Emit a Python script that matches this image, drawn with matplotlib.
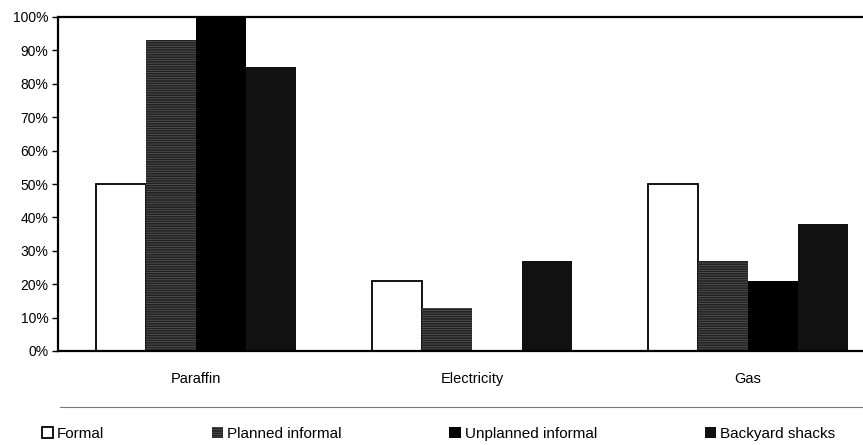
import numpy as np
import matplotlib
matplotlib.use("Agg")
import matplotlib.pyplot as plt
from matplotlib.lines import Line2D

plt.rcParams['font.family'] = ['Liberation Sans', 'DejaVu Sans']
plt.rcParams['hatch.color'] = '#5c5c5c'
plt.rcParams['hatch.linewidth'] = 0.5

fuels = ['Paraffin', 'Electricity', 'Gas']
series = ['Formal', 'Planned informal', 'Unplanned informal', 'Backyard shacks']
formal = [50, 21, 50]
planned = [93, 13, 27]
unplanned = [100, 0, 21]
backyard = [85, 27, 38]
yticks = [0, 10, 20, 30, 40, 50, 60, 70, 80, 90, 100]

fig = plt.figure(figsize=(8.63, 4.45), dpi=100)
ax = fig.add_axes([58 / 863, 94 / 445, 828 / 863, 334 / 445])

x = np.arange(len(fuels))
w = 0.181
offs = np.array([-1.5, -0.5, 0.5, 1.5]) * w
styles = [
    dict(color='white', edgecolor='black', linewidth=1.3),
    dict(color='#222222', hatch='-------', linewidth=0),
    dict(color='black', linewidth=0),
    dict(color='#111111', linewidth=0),
]
handles = []
for vals, off, st, name in zip([formal, planned, unplanned, backyard], offs, styles, series):
    b = ax.bar(x + off, vals, w, label=name, **st)
    handles.append(b)

ax.set_xlim(-0.5, 2.5)
ax.set_ylim(0, 100)
ax.set_yticks(yticks)
ax.set_yticklabels([f'{v}%' for v in yticks], fontsize=10)
ax.set_xticks(x)
ax.set_xticklabels(fuels, fontsize=10.5)
ax.tick_params(axis='x', length=0, pad=15)
ax.tick_params(axis='y', length=4, width=1, direction='out', pad=3)
for s in ('left', 'bottom', 'top'):
    ax.spines[s].set_linewidth(1.6)
ax.spines['right'].set_visible(False)

# separator above the key
fig.add_artist(Line2D([60 / 863, 1.0], [1 - 407 / 445] * 2, color='#777777',
                      lw=0.8, transform=fig.transFigure))

fig.legend(handles=handles, labels=series, loc='center',
           bbox_to_anchor=(0.508, 1 - 434 / 445), ncol=4, frameon=False,
           fontsize=11, columnspacing=7.05, handlelength=0.75, handleheight=0.75,
           handletextpad=0.25, borderpad=0)

fig.savefig('out.png', dpi=100)
